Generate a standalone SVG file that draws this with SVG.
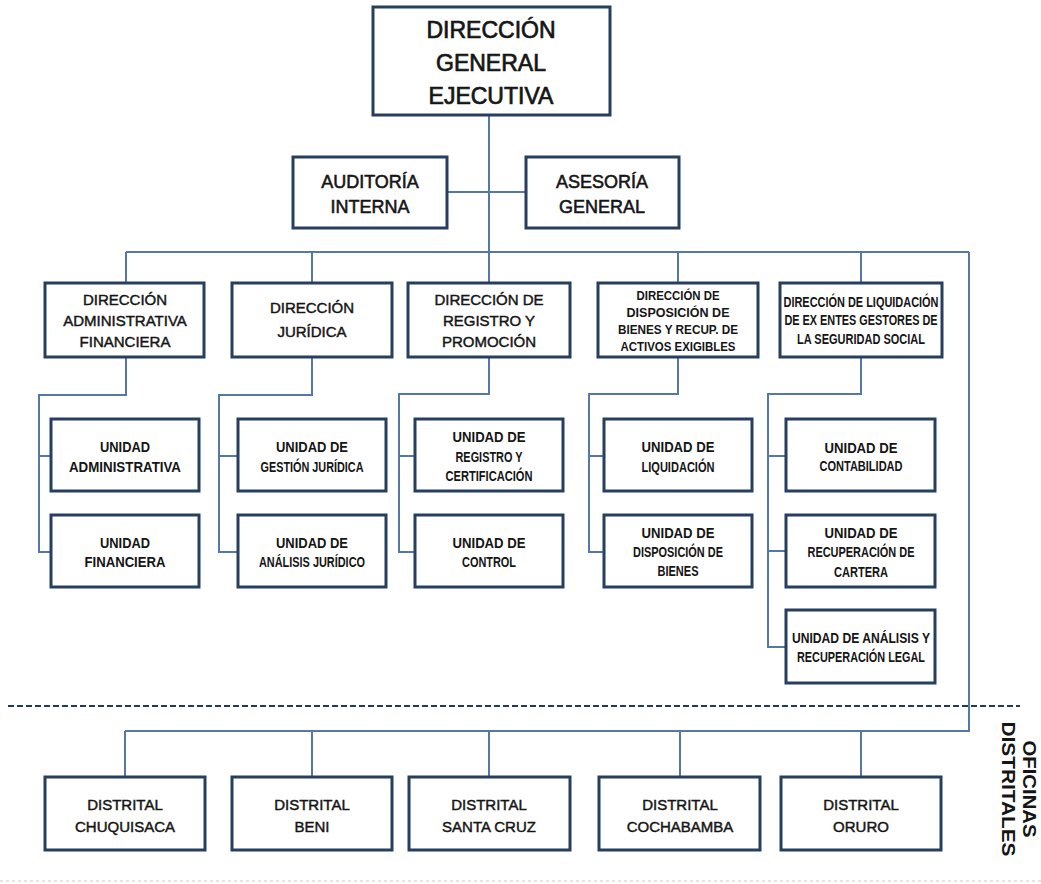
<svg xmlns="http://www.w3.org/2000/svg" width="1041" height="884" viewBox="0 0 1041 884">
<style>
.box{fill:#fff;stroke:#263f5e;stroke-width:3}
.con{fill:none;stroke:#5479a8;stroke-width:2}
text{font-family:"Liberation Sans",Arial,sans-serif;fill:#151515;text-anchor:middle}
.t1{font-size:23px;stroke:#151515;stroke-width:0.7}
.t2{font-size:18px;stroke:#151515;stroke-width:0.55}
.t3{font-size:15px;stroke:#151515;stroke-width:0.45}
.n{font-size:15px;font-weight:bold}
.ns{font-size:13px;font-weight:bold}
.nl{font-size:14px;font-weight:bold}
.v{font-size:19px;font-weight:bold}
</style>
<rect width="1041" height="884" fill="#fff"/>
<g id="connectors">
<path class="con" d="M489 115V252M447 192H526M126 252H969M126 252V283M312 252V283M489 252V283M678 252V283M861 252V283M969 252V731H125M125 731V777M312 731V777M489 731V777M680 731V777M861 731V777"/>
<path class="con" d="M126 357V395H39V552H51M39 456H51"/>
<path class="con" d="M312 357V395H219V552H238M219 456H238"/>
<path class="con" d="M489 357V394H399V552H415M399 456H415"/>
<path class="con" d="M678 357V394H589V552H604M589 456H604"/>
<path class="con" d="M861 357V394H768V647H786M768 456H786M768 551H786"/>
</g>
<line x1="8" y1="706" x2="1020" y2="706" stroke="#1f3a5f" stroke-width="2" stroke-dasharray="6 3"/>
<line x1="0" y1="881" x2="1041" y2="881" stroke="#c9ced6" stroke-width="1.5" stroke-dasharray="3 3" opacity="0.7"/>
<g id="dge"><rect class="box" x="373" y="7" width="237" height="108"/>
<text class="t1" x="491" y="38">DIRECCIÓN</text><text class="t1" x="491" y="71">GENERAL</text><text class="t1" x="491" y="104">EJECUTIVA</text></g>
<g id="auditoria"><rect class="box" x="293" y="157" width="154" height="71"/>
<text class="t2" x="370" y="188">AUDITORÍA</text><text class="t2" x="370" y="213">INTERNA</text></g>
<g id="asesoria"><rect class="box" x="526" y="157" width="153" height="71"/>
<text class="t2" x="602" y="188">ASESORÍA</text><text class="t2" x="602" y="213">GENERAL</text></g>
<g id="daf"><rect class="box" x="45" y="283" width="159" height="74"/>
<text class="t3" x="125" y="305">DIRECCIÓN</text><text class="t3" x="125" y="326">ADMINISTRATIVA</text><text class="t3" x="125" y="347">FINANCIERA</text></g>
<g id="dj"><rect class="box" x="232" y="283" width="160" height="74"/>
<text class="t3" x="312" y="313">DIRECCIÓN</text><text class="t3" x="312" y="337">JURÍDICA</text></g>
<g id="drp"><rect class="box" x="408" y="283" width="162" height="74"/>
<text class="t3" x="489" y="305">DIRECCIÓN DE</text><text class="t3" x="489" y="326">REGISTRO Y</text><text class="t3" x="489" y="347">PROMOCIÓN</text></g>
<g id="ddb"><rect class="box" x="598" y="283" width="160" height="74"/>
<text class="ns" x="678" y="300" textLength="83" lengthAdjust="spacingAndGlyphs">DIRECCIÓN DE</text>
<text class="ns" x="678" y="317" textLength="103" lengthAdjust="spacingAndGlyphs">DISPOSICIÓN DE</text>
<text class="ns" x="678" y="334" textLength="120" lengthAdjust="spacingAndGlyphs">BIENES Y RECUP. DE</text>
<text class="ns" x="678" y="351" textLength="115" lengthAdjust="spacingAndGlyphs">ACTIVOS EXIGIBLES</text></g>
<g id="dl"><rect class="box" x="780" y="283" width="162" height="74"/>
<text class="nl" x="861" y="307" textLength="155" lengthAdjust="spacingAndGlyphs">DIRECCIÓN DE LIQUIDACIÓN</text>
<text class="nl" x="861" y="325" textLength="153" lengthAdjust="spacingAndGlyphs">DE EX ENTES GESTORES DE</text>
<text class="nl" x="861" y="344" textLength="128" lengthAdjust="spacingAndGlyphs">LA SEGURIDAD SOCIAL</text></g>
<g id="u-adm"><rect class="box" x="51" y="419" width="148" height="72"/>
<text class="n" x="125" y="452" textLength="50" lengthAdjust="spacingAndGlyphs">UNIDAD</text>
<text class="n" x="125" y="472" textLength="112" lengthAdjust="spacingAndGlyphs">ADMINISTRATIVA</text></g>
<g id="u-fin"><rect class="box" x="51" y="515" width="148" height="72"/>
<text class="n" x="125" y="548" textLength="50" lengthAdjust="spacingAndGlyphs">UNIDAD</text>
<text class="n" x="125" y="567" textLength="81" lengthAdjust="spacingAndGlyphs">FINANCIERA</text></g>
<g id="u-gj"><rect class="box" x="238" y="419" width="148" height="72"/>
<text class="n" x="312" y="452" textLength="72" lengthAdjust="spacingAndGlyphs">UNIDAD DE</text>
<text class="n" x="312" y="472" textLength="103" lengthAdjust="spacingAndGlyphs">GESTIÓN JURÍDICA</text></g>
<g id="u-aj"><rect class="box" x="238" y="515" width="148" height="72"/>
<text class="n" x="312" y="548" textLength="72" lengthAdjust="spacingAndGlyphs">UNIDAD DE</text>
<text class="n" x="312" y="567" textLength="106" lengthAdjust="spacingAndGlyphs">ANÁLISIS JURÍDICO</text></g>
<g id="u-rc"><rect class="box" x="415" y="419" width="148" height="72"/>
<text class="n" x="489" y="442" textLength="73" lengthAdjust="spacingAndGlyphs">UNIDAD DE</text>
<text class="n" x="489" y="462" textLength="67" lengthAdjust="spacingAndGlyphs">REGISTRO Y</text>
<text class="n" x="489" y="481" textLength="87" lengthAdjust="spacingAndGlyphs">CERTIFICACIÓN</text></g>
<g id="u-ctl"><rect class="box" x="415" y="515" width="148" height="72"/>
<text class="n" x="489" y="548" textLength="73" lengthAdjust="spacingAndGlyphs">UNIDAD DE</text>
<text class="n" x="489" y="567" textLength="54" lengthAdjust="spacingAndGlyphs">CONTROL</text></g>
<g id="u-liq"><rect class="box" x="604" y="419" width="148" height="72"/>
<text class="n" x="678" y="452" textLength="73" lengthAdjust="spacingAndGlyphs">UNIDAD DE</text>
<text class="n" x="678" y="472" textLength="73" lengthAdjust="spacingAndGlyphs">LIQUIDACIÓN</text></g>
<g id="u-db"><rect class="box" x="604" y="515" width="148" height="72"/>
<text class="n" x="678" y="538" textLength="73" lengthAdjust="spacingAndGlyphs">UNIDAD DE</text>
<text class="n" x="678" y="557" textLength="90" lengthAdjust="spacingAndGlyphs">DISPOSICIÓN DE</text>
<text class="n" x="678" y="576" textLength="41" lengthAdjust="spacingAndGlyphs">BIENES</text></g>
<g id="u-con"><rect class="box" x="786" y="419" width="149" height="72"/>
<text class="n" x="861" y="453" textLength="73" lengthAdjust="spacingAndGlyphs">UNIDAD DE</text>
<text class="n" x="861" y="471" textLength="83" lengthAdjust="spacingAndGlyphs">CONTABILIDAD</text></g>
<g id="u-rca"><rect class="box" x="786" y="515" width="149" height="72"/>
<text class="n" x="861" y="538" textLength="73" lengthAdjust="spacingAndGlyphs">UNIDAD DE</text>
<text class="n" x="861" y="557" textLength="107" lengthAdjust="spacingAndGlyphs">RECUPERACIÓN DE</text>
<text class="n" x="861" y="577" textLength="54" lengthAdjust="spacingAndGlyphs">CARTERA</text></g>
<g id="u-arl"><rect class="box" x="786" y="610" width="149" height="73"/>
<text class="n" x="861" y="643" textLength="138" lengthAdjust="spacingAndGlyphs">UNIDAD DE ANÁLISIS Y</text>
<text class="n" x="861" y="662" textLength="128" lengthAdjust="spacingAndGlyphs">RECUPERACIÓN LEGAL</text></g>
<g id="d-chu"><rect class="box" x="45" y="777" width="160" height="73"/>
<text class="t3" x="125" y="810">DISTRITAL</text><text class="t3" x="125" y="832">CHUQUISACA</text></g>
<g id="d-ben"><rect class="box" x="232" y="777" width="160" height="73"/>
<text class="t3" x="312" y="810">DISTRITAL</text><text class="t3" x="312" y="832">BENI</text></g>
<g id="d-scz"><rect class="box" x="409" y="777" width="161" height="73"/>
<text class="t3" x="489" y="810">DISTRITAL</text><text class="t3" x="489" y="832">SANTA CRUZ</text></g>
<g id="d-cbb"><rect class="box" x="599" y="777" width="161" height="73"/>
<text class="t3" x="680" y="810">DISTRITAL</text><text class="t3" x="680" y="832">COCHABAMBA</text></g>
<g id="d-oru"><rect class="box" x="781" y="777" width="160" height="73"/>
<text class="t3" x="861" y="810">DISTRITAL</text><text class="t3" x="861" y="832">ORURO</text></g>
<g id="oficinas">
<text class="v" transform="translate(1023,789) rotate(90)" textLength="97" lengthAdjust="spacingAndGlyphs">OFICINAS</text>
<text class="v" transform="translate(1002,789) rotate(90)" textLength="135" lengthAdjust="spacingAndGlyphs">DISTRITALES</text>
</g>
</svg>
